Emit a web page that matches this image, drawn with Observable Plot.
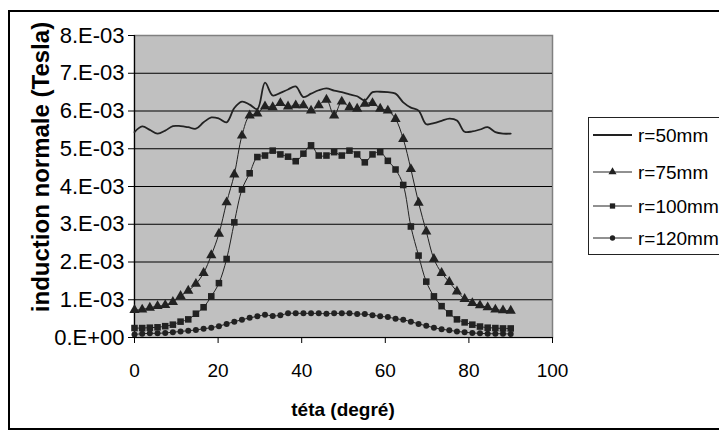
<!DOCTYPE html>
<html><head><meta charset="utf-8">
<script src="https://cdn.jsdelivr.net/npm/d3@7"></script>
<script src="https://cdn.jsdelivr.net/npm/@observablehq/plot@0.6"></script>
<style>
html,body{margin:0;padding:0;background:#fff;overflow:hidden}
#wrap{position:relative;width:719px;height:437px;overflow:hidden;font-family:"Liberation Sans",Arial,sans-serif;color:#000}
#frame{position:absolute;left:8px;top:10px;width:760px;height:420px;border:2px solid #000;box-sizing:border-box;pointer-events:none}
#chart{position:absolute;left:0;top:0}
#ytitle{position:absolute;left:41px;top:167px;transform:translate(-50%,-50%) rotate(-90deg);font-weight:bold;font-size:24px;white-space:nowrap}
#xtitle{position:absolute;left:343px;top:410px;transform:translate(-50%,-50%);font-weight:bold;font-size:19px;white-space:nowrap}
#legend{position:absolute;left:588px;top:117px;width:200px;height:138px;border:1px solid #222;box-sizing:border-box;background:#fff}
</style></head>
<body>
<div id="wrap">
  <div id="chart"></div>
  <div id="frame"></div>
  <div id="ytitle">induction normale (Tesla)</div>
  <div id="xtitle">téta (degré)</div>
  <div id="legend"></div>
</div>
<script>
// angle (degrees)
const theta = [0, 1.84, 3.67, 5.51, 7.35, 9.18, 11.02, 12.86, 14.69, 16.53, 18.37, 20.20, 22.04, 23.88, 25.71, 27.55, 29.39, 31.22, 33.06, 34.90, 36.73, 38.57, 40.41, 42.24, 44.08, 45.92, 47.76, 49.59, 51.43, 53.27, 55.10, 56.94, 58.78, 60.61, 62.45, 64.29, 66.12, 67.96, 69.80, 71.63, 73.47, 75.31, 77.14, 78.98, 80.82, 82.65, 84.49, 86.33, 88.16, 90.00];
// induction in units of 1E-03 Tesla
const r50 = [5.44,5.59,5.50,5.40,5.48,5.60,5.60,5.57,5.53,5.70,5.83,5.80,5.70,6.08,6.25,6.17,6.05,6.75,6.41,6.48,6.57,6.65,6.37,6.46,6.55,6.60,6.54,6.50,6.44,6.39,6.28,6.50,6.51,6.50,6.46,6.23,6.09,6.01,5.65,5.68,5.74,5.80,5.75,5.45,5.46,5.51,5.57,5.44,5.40,5.40];
const r75 = [0.73,0.74,0.79,0.83,0.86,0.94,1.10,1.24,1.42,1.71,2.18,2.75,3.58,4.32,5.35,5.88,5.93,6.12,6.10,6.21,6.12,6.15,6.15,6.01,6.15,6.30,5.88,6.25,6.10,6.06,6.19,6.21,6.06,6.01,5.79,5.26,4.46,3.57,2.81,2.08,1.71,1.47,1.22,1.02,0.91,0.85,0.80,0.74,0.72,0.71];
const r100 = [0.25,0.25,0.26,0.27,0.30,0.34,0.42,0.48,0.63,0.80,1.09,1.44,2.08,3.05,3.92,4.35,4.78,4.82,4.95,4.85,4.79,4.67,4.87,5.09,4.82,4.82,4.91,4.82,4.95,4.85,4.64,4.85,4.91,4.68,4.45,4.04,2.94,2.17,1.48,1.09,0.83,0.64,0.48,0.40,0.34,0.29,0.26,0.25,0.24,0.24];
const r120 = [0.08,0.10,0.11,0.11,0.12,0.14,0.16,0.18,0.20,0.23,0.26,0.30,0.36,0.42,0.47,0.52,0.56,0.60,0.57,0.59,0.64,0.64,0.64,0.64,0.64,0.63,0.64,0.64,0.64,0.62,0.62,0.59,0.56,0.54,0.50,0.47,0.42,0.36,0.31,0.26,0.22,0.19,0.16,0.14,0.12,0.11,0.10,0.10,0.10,0.09];
const seriesNames = ["r=50mm", "r=75mm", "r=100mm", "r=120mm"];
const xTicks = [0, 20, 40, 60, 80, 100];
const yTicks = [0, 1, 2, 3, 4, 5, 6, 7, 8];
const yTickLabels = ["0.E+00","1.E-03","2.E-03","3.E-03","4.E-03","5.E-03","6.E-03","7.E-03","8.E-03"];

const mk = (arr) => theta.map((t, i) => ({x: t, y: arr[i]}));
const d50 = mk(r50), d75 = mk(r75), d100 = mk(r100), d120 = mk(r120);
const ink = "#222";

const chart = Plot.plot({
  width: 719, height: 437,
  marginLeft: 134, marginRight: 167, marginTop: 35, marginBottom: 100,
  style: {fontFamily: '"Liberation Sans", Arial, sans-serif', fontSize: "19px", color: "#000", background: "transparent", overflow: "visible"},
  x: {domain: [0, 100]},
  y: {domain: [0, 8]},
  marks: [
    Plot.frame({fill: "#c0c0c0", stroke: "#808080", strokeWidth: 1.5}),
    Plot.ruleY(yTicks.slice(1, -1), {stroke: "#000", strokeWidth: 1}),
    Plot.ruleX([0], {stroke: "#000", strokeWidth: 1.2}),
    Plot.ruleY([0], {stroke: "#000", strokeWidth: 1.2}),
    Plot.line(d50, {x: "x", y: "y", stroke: ink, strokeWidth: 1.8, curve: "catmull-rom"}),
    Plot.line(d75, {x: "x", y: "y", stroke: ink, strokeWidth: 1, curve: "catmull-rom"}),
    Plot.line(d100, {x: "x", y: "y", stroke: ink, strokeWidth: 1, curve: "catmull-rom"}),
    Plot.line(d120, {x: "x", y: "y", stroke: ink, strokeWidth: 1, curve: "catmull-rom"}),
    Plot.dot(d75, {x: "x", y: "y", symbol: "triangle", r: 3.8, fill: ink, stroke: "none"}),
    Plot.dot(d100, {x: "x", y: "y", symbol: "square", r: 3.7, fill: ink, stroke: "none"}),
    Plot.dot(d120, {x: "x", y: "y", symbol: "circle", r: 3, fill: ink, stroke: "none"}),
    Plot.axisY({ticks: yTicks, tickFormat: (d) => yTickLabels[yTicks.indexOf(d)], tickSize: 6, tickPadding: 4, label: null, fontSize: 22}),
    Plot.axisX({ticks: xTicks, tickFormat: d => String(d), tickSize: 6, tickPadding: 20, label: null, fontSize: 19})
  ]
});
document.getElementById("chart").appendChild(chart);

// legend
const lg = d3.select("#legend").append("svg").attr("width", 200).attr("height", 138)
  .style("position", "absolute").style("left", "-1px").style("top", "-1px");
const rowsY = [18, 55, 89, 121];
const syms = [null, d3.symbolTriangle, d3.symbolSquare, d3.symbolCircle];
const sizes = [0, 28, 28, 22];
seriesNames.forEach((name, i) => {
  const y = rowsY[i];
  lg.append("line").attr("x1", 5).attr("x2", 44).attr("y1", y).attr("y2", y)
    .attr("stroke", ink).attr("stroke-width", i === 0 ? 1.8 : 1);
  if (syms[i]) lg.append("path").attr("d", d3.symbol(syms[i], sizes[i])()).attr("transform", `translate(24.5,${y})`).attr("fill", ink);
  lg.append("text").attr("x", 50).attr("y", y).attr("dy", "0.35em")
    .attr("font-family", '"Liberation Sans", Arial, sans-serif').attr("font-size", 19).attr("fill", "#000").text(name);
});
</script>
</body></html>
